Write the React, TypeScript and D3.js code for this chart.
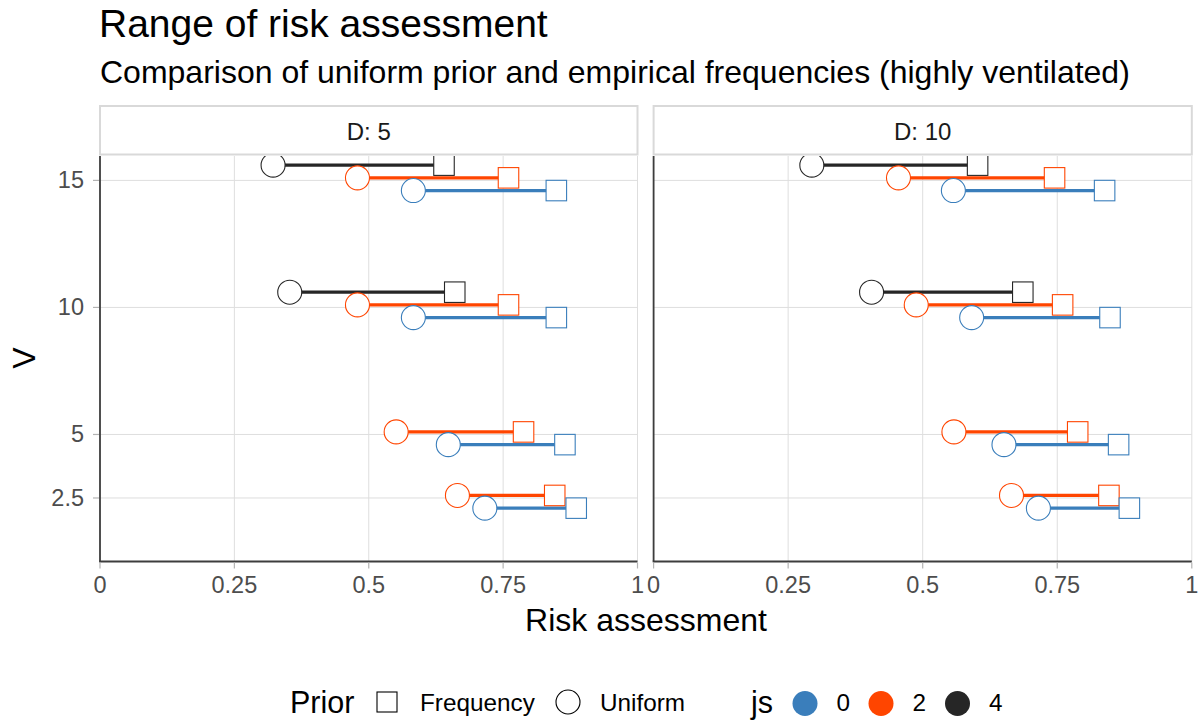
import React, { useEffect, useRef } from "react";
import * as d3 from "d3";

const W = 1203;
const H = 722;

const dValues = [5, 10];
const vTicks = [2.5, 5, 10, 15];
const xTicks = [0, 0.25, 0.5, 0.75, 1];
const xTickLabels = ["0", "0.25", "0.5", "0.75", "1"];
const jsLevels = [0, 2, 4];
const jsColors = ["#3a7ebb", "#ff4500", "#262626"];
const priorLevels = ["Frequency", "Uniform"];

// one entry per (V, js) row
const rowV = [15, 15, 15, 10, 10, 10, 5, 5, 2.5, 2.5];
const rowJs = [4, 2, 0, 4, 2, 0, 2, 0, 2, 0];
const uniformD5 = [0.322, 0.479, 0.583, 0.353, 0.479, 0.583, 0.551, 0.648, 0.665, 0.716];
const frequencyD5 = [0.64, 0.76, 0.849, 0.66, 0.76, 0.849, 0.788, 0.865, 0.846, 0.886];
const uniformD10 = [0.294, 0.455, 0.557, 0.405, 0.488, 0.591, 0.558, 0.651, 0.665, 0.715];
const frequencyD10 = [0.602, 0.745, 0.838, 0.686, 0.76, 0.848, 0.788, 0.864, 0.846, 0.884];

const uniformByD = [uniformD5, uniformD10];
const frequencyByD = [frequencyD5, frequencyD10];

// vertical dodge per js group, in V units
const jsDodge = [-0.4, 0.1, 0.6];

const FONT = "'Liberation Sans', Arial, Helvetica, sans-serif";

const App = () => {
  const ref = useRef<SVGSVGElement>(null);

  useEffect(() => {
    const svg = d3.select(ref.current);
    svg.selectAll("*").remove();

    const top = 156;
    const bottom = 561.5;
    const panelRanges = [
      [100, 637.5],
      [653.6, 1191.8],
    ];
    const y = d3.scaleLinear().domain([0, 15.96]).range([bottom, top]);
    const color = d3.scaleOrdinal<number, string>().domain(jsLevels).range(jsColors);
    const dodge = d3.scaleOrdinal<number, number>().domain(jsLevels).range(jsDodge);

    // titles
    svg.append("text")
      .attr("x", 99).attr("y", 37)
      .attr("font-size", 39).attr("fill", "#000")
      .text("Range of risk assessment");
    svg.append("text")
      .attr("x", 100).attr("y", 83)
      .attr("font-size", 32).attr("fill", "#000")
      .text("Comparison of uniform prior and empirical frequencies (highly ventilated)");

    dValues.forEach((dv, p) => {
      const [x0, x1] = panelRanges[p];
      const x = d3.scaleLinear().domain([0, 1]).range([x0, x1]);
      const g = svg.append("g");

      // strip
      g.append("rect")
        .attr("x", x0).attr("y", 106).attr("width", x1 - x0).attr("height", 48.5)
        .attr("fill", "#fff").attr("stroke", "#d9d9d9").attr("stroke-width", 2);
      g.append("text")
        .attr("x", (x0 + x1) / 2).attr("y", 140)
        .attr("text-anchor", "middle").attr("font-size", 24).attr("fill", "#1a1a1a")
        .text(`D: ${dv}`);

      // grid
      g.selectAll("line.gx").data(xTicks).enter().append("line")
        .attr("x1", d => x(d)).attr("x2", d => x(d))
        .attr("y1", top).attr("y2", bottom)
        .attr("stroke", "#dedede").attr("stroke-width", 1);
      g.selectAll("line.gy").data(vTicks).enter().append("line")
        .attr("x1", x0).attr("x2", x1)
        .attr("y1", d => y(d)).attr("y2", d => y(d))
        .attr("stroke", "#dedede").attr("stroke-width", 1);

      // marks, clipped to the panel
      const clipId = `clip-${p}`;
      svg.append("clipPath").attr("id", clipId)
        .append("rect").attr("x", x0).attr("y", top).attr("width", x1 - x0).attr("height", bottom - top);
      const marks = g.append("g").attr("clip-path", `url(#${clipId})`);
      const rows = rowV.map((v, i) => ({
        v,
        js: rowJs[i],
        uni: uniformByD[p][i],
        freq: frequencyByD[p][i],
      }));
      const yy = (d: { v: number; js: number }) => y(d.v + dodge(d.js));

      marks.selectAll("line.seg").data(rows).enter().append("line")
        .attr("x1", d => x(d.uni)).attr("x2", d => x(d.freq))
        .attr("y1", yy).attr("y2", yy)
        .attr("stroke", d => color(d.js)).attr("stroke-width", 3.2);
      marks.selectAll("circle.u").data(rows).enter().append("circle")
        .attr("cx", d => x(d.uni)).attr("cy", yy).attr("r", 12)
        .attr("fill", "#fff").attr("stroke", d => color(d.js)).attr("stroke-width", 1.1);
      const side = 20.5;
      marks.selectAll("rect.f").data(rows).enter().append("rect")
        .attr("x", d => x(d.freq) - side / 2).attr("y", d => yy(d) - side / 2)
        .attr("width", side).attr("height", side)
        .attr("fill", "#fff").attr("stroke", d => color(d.js)).attr("stroke-width", 1.1);

      // axes
      g.append("line")
        .attr("x1", x0).attr("x2", x0).attr("y1", top).attr("y2", bottom)
        .attr("stroke", "#3d3d3d").attr("stroke-width", 1.8);
      g.append("line")
        .attr("x1", x0 - 0.9).attr("x2", x1).attr("y1", bottom).attr("y2", bottom)
        .attr("stroke", "#3d3d3d").attr("stroke-width", 1.8);
      g.selectAll("line.tx").data(xTicks).enter().append("line")
        .attr("x1", d => x(d)).attr("x2", d => x(d))
        .attr("y1", bottom + 1).attr("y2", bottom + 7)
        .attr("stroke", "#b3b3b3").attr("stroke-width", 1.2);
      g.selectAll("text.tx").data(xTicks).enter().append("text")
        .attr("x", d => x(d)).attr("y", 593)
        .attr("text-anchor", "middle").attr("font-size", 23.5).attr("fill", "#4d4d4d")
        .text((d, i) => xTickLabels[i]);

      if (p === 0) {
        g.selectAll("line.ty").data(vTicks).enter().append("line")
          .attr("x1", x0 - 7).attr("x2", x0 - 1)
          .attr("y1", d => y(d)).attr("y2", d => y(d))
          .attr("stroke", "#b3b3b3").attr("stroke-width", 1.2);
        g.selectAll("text.ty").data(vTicks).enter().append("text")
          .attr("x", 84).attr("y", d => y(d) + 8)
          .attr("text-anchor", "end").attr("font-size", 23.5).attr("fill", "#4d4d4d")
          .text(d => String(d));
      }
    });

    // axis titles
    svg.append("text")
      .attr("x", 646).attr("y", 631)
      .attr("text-anchor", "middle").attr("font-size", 32).attr("fill", "#000")
      .text("Risk assessment");
    svg.append("text")
      .attr("transform", "translate(35,358) rotate(-90)")
      .attr("text-anchor", "middle").attr("font-size", 32).attr("fill", "#000")
      .text("V");

    // legend
    const lg = svg.append("g");
    const ly = 702;
    lg.append("text").attr("x", 290).attr("y", ly + 11).attr("font-size", 30.5).text("Prior");
    const priorKeyX = [387, 568];
    const priorTextX = [420, 600];
    priorLevels.forEach((lab, i) => {
      if (lab === "Frequency") {
        lg.append("rect").attr("x", priorKeyX[i] - 10).attr("y", ly - 10)
          .attr("width", 20).attr("height", 20)
          .attr("fill", "#fff").attr("stroke", "#000").attr("stroke-width", 1.1);
      } else {
        lg.append("circle").attr("cx", priorKeyX[i]).attr("cy", ly).attr("r", 12)
          .attr("fill", "#fff").attr("stroke", "#000").attr("stroke-width", 1.1);
      }
      lg.append("text").attr("x", priorTextX[i]).attr("y", ly + 8.5)
        .attr("font-size", 24.3).text(lab);
    });
    lg.append("text").attr("x", 751).attr("y", ly + 11).attr("font-size", 30.5).text("js");
    const jsKeyX = [805, 881, 957.5];
    jsLevels.forEach((js, i) => {
      lg.append("circle").attr("cx", jsKeyX[i]).attr("cy", ly + 1.5).attr("r", 12.5)
        .attr("fill", color(js));
      lg.append("text").attr("x", jsKeyX[i] + 31.5).attr("y", ly + 8.5)
        .attr("font-size", 24.3).text(String(js));
    });
  }, []);

  return (
    <svg
      ref={ref}
      width={W}
      height={H}
      style={{ position: "absolute", left: 0, top: 0, background: "#fff", fontFamily: FONT }}
    />
  );
};

export default App;
